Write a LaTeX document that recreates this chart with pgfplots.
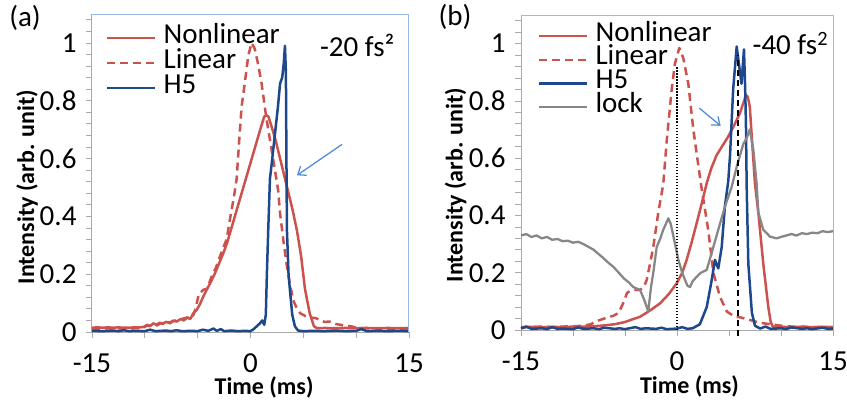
\documentclass[border=0pt]{standalone}
\usepackage{fontspec}
\setmainfont{Carlito}
\usepackage{pgfplots}
\pgfplotsset{compat=1.18}
\usetikzlibrary{arrows.meta}

\definecolor{exred}{RGB}{204,82,78}
\definecolor{exblue}{RGB}{30,72,140}
\definecolor{exgray}{RGB}{135,135,135}
\definecolor{arrowblue}{RGB}{85,140,215}
\definecolor{frameblue}{RGB}{150,185,230}
\definecolor{axgray}{RGB}{170,170,170}

\newcommand{\bigf}{\fontsize{29}{29}\selectfont}
\newcommand{\labf}{\fontsize{24}{24}\selectfont\bfseries}

\pgfplotsset{
  panel/.style={
    scale only axis, clip=false,
    xmin=-15, xmax=15, ymin=0, ymax=1.1,
    /pgf/number format/assume math mode=true,
    axis lines=left, axis line style={axgray, -, line width=1pt},
    xtick={-15,0,15},
    minor xtick={-10,-5,5,10},
    ytick={0,0.2,0.4,0.6,0.8,1},
    minor ytick={0.04,0.08,0.12,0.16,0.24,0.28,0.32,0.36,0.44,0.48,0.52,0.56,0.64,0.68,0.72,0.76,0.84,0.88,0.92,0.96,1.04,1.08},
    tick align=outside, major tick length=6pt, minor tick length=6pt,
    tick style={axgray, line width=0.8pt},
    tick label style={font=\bigf, text=black},
    xticklabel style={yshift=-12pt},
    yticklabel style={xshift=-6pt},
    label style={font=\labf},
    xlabel={Time (ms)}, ylabel={Intensity (arb. unit)},
    legend cell align=left,
    legend image code/.code={\draw[##1] (0pt,0pt) -- (48pt,0pt);},
    legend style={draw=none, fill=none, font=\bigf, inner sep=0pt,
      column sep=7pt, anchor=north west,
      nodes={inner sep=0pt, text height=15pt, text depth=5pt}},
  },
  nl/.style={exred, line width=2.5pt, line join=round},
  li/.style={exred, line width=2.5pt, line join=round, dash pattern=on 8pt off 5pt},
  h5/.style={exblue, line width=2.5pt, line join=round},
  lk/.style={exgray, line width=2.3pt, line join=round},
}

\begin{document}
\begin{tikzpicture}
\useasboundingbox (0,0) rectangle (847pt,400pt);

% ---------------- panel (a) ----------------
\begin{axis}[panel, at={(92pt,68pt)}, anchor=south west,
  width=317pt, height=318pt,
  xlabel style={at={(axis description cs:0.543,-0.173)}, anchor=center},
  ylabel style={at={(axis description cs:-0.205,0.456)}, anchor=center},
  legend style={at={(axis description cs:0.044,0.956)}, row sep=5pt}]
\addplot[nl] coordinates {
(-15,0.015)(-14.5,0.016)(-14,0.015)(-13.5,0.016)(-13,0.015)(-12.5,0.016)(-12,0.015)(-11.5,0.015)(-11,0.016)(-10.5,0.016)
(-10,0.018)(-9.8,0.025)(-9.5,0.02)(-9.2,0.03)(-8.9,0.025)(-8.6,0.032)(-8.3,0.028)(-8,0.035)(-7.6,0.03)(-7.3,0.04)
(-7,0.036)(-6.6,0.045)(-6.3,0.04)(-6,0.05)(-5.7,0.045)(-5.4,0.065)(-5.1,0.076)(-4.8,0.095)(-4.5,0.12)(-4.15,0.146)
(-3.8,0.17)(-3.4,0.2)(-3,0.235)(-2.6,0.27)(-2.2,0.31)(-1.8,0.36)(-1.4,0.41)(-1,0.46)(-0.6,0.51)(-0.2,0.56)
(0.2,0.61)(0.6,0.66)(1.0,0.71)(1.3,0.745)(1.5,0.75)(1.7,0.745)(2.0,0.71)(2.4,0.66)(2.8,0.6)(3.2,0.54)
(3.6,0.48)(4.0,0.42)(4.4,0.35)(4.8,0.26)(5.15,0.15)(5.6,0.065)(6.0,0.02)(6.3,0.013)(7,0.014)(8,0.013)
(9,0.014)(10,0.013)(11,0.014)(12,0.013)(13,0.014)(14,0.013)(15,0.014)};
\addlegendentry{Nonlinear}
\addplot[li] coordinates {
(-15,0.012)(-14,0.012)(-13,0.013)(-12,0.012)(-11,0.013)(-10.2,0.013)(-10,0.02)(-9.5,0.022)(-9,0.02)(-8.5,0.03)
(-8,0.032)(-7.5,0.035)(-7,0.04)(-6.5,0.045)(-6,0.05)(-5.5,0.05)(-5.2,0.08)(-4.9,0.13)(-4.47,0.146)(-4.1,0.15)
(-3.7,0.19)(-3.3,0.22)(-2.9,0.26)(-2.6,0.29)(-2.26,0.32)(-1.9,0.4)(-1.6,0.46)(-1.31,0.53)(-1.06,0.667)(-0.84,0.78)
(-0.53,0.864)(-0.21,0.956)(0.1,1.0)(0.4,0.98)(0.7,0.93)(1.05,0.86)(1.5,0.74)(2.0,0.63)(2.4,0.54)(2.62,0.49)
(2.8,0.41)(3.1,0.32)(3.4,0.24)(3.7,0.17)(4.05,0.11)(4.4,0.08)(4.7,0.065)(5.2,0.055)(5.7,0.05)(6.2,0.048)
(6.6,0.04)(7,0.035)(7.5,0.036)(8,0.028)(8.5,0.025)(9,0.02)(9.5,0.02)(10,0.015)(11,0.013)(12,0.012)
(13,0.012)(14,0.012)(15,0.012)};
\addlegendentry{Linear}
\addplot[h5] coordinates {
(-15,0.004)(-14,0.003)(-13,0.005)(-12.5,0.003)(-12,0.006)(-11.5,0.003)(-11,0.004)(-10,0.003)(-9.5,0.008)(-9,0.003)
(-8,0.005)(-7.5,0.003)(-7,0.006)(-6.5,0.003)(-5.5,0.004)(-5,0.003)(-4.5,0.008)(-4,0.004)(-3.5,0.012)(-3.2,0.004)
(-2.8,0.01)(-2.5,0.003)(-1.8,0.005)(-1.2,0.003)(-0.5,0.004)(0,0.003)(0.3,0.01)(0.6,0.02)(0.9,0.03)(1.1,0.04)
(1.3,0.025)(1.45,0.06)(1.55,0.2)(1.68,0.354)(1.84,0.53)(2.0,0.58)(2.3,0.68)(2.6,0.78)(2.8,0.86)(3.0,0.88)
(3.15,0.93)(3.26,0.99)(3.35,0.9)(3.4,0.6)(3.45,0.35)(3.6,0.2)(3.73,0.146)(3.95,0.06)(4.2,0.02)(4.5,0.005)
(5,0.003)(6,0.004)(7,0.003)(8,0.005)(9,0.003)(10,0.004)(10.5,0.01)(11,0.003)(12,0.004)(13,0.003)
(14,0.004)(15,0.003)};
\addlegendentry{H5}
\node[font=\bigf] at (axis cs:10.1,0.99) {-20 fs²};
\draw[arrowblue, line width=1.3pt, -{Straight Barb[length=7pt,width=11pt]}]
  (axis cs:8.66,0.649) -- (axis cs:4.4,0.542);
\draw[frameblue, line width=1pt] (rel axis cs:0,1) -- (rel axis cs:1,1) -- (rel axis cs:1,0);
\end{axis}

% ---------------- panel (b) ----------------
\begin{axis}[panel, at={(521pt,70pt)}, anchor=south west,
  width=312pt, height=315pt,
  xlabel style={at={(axis description cs:0.54,-0.18)}, anchor=center},
  ylabel style={at={(axis description cs:-0.21,0.46)}, anchor=center},
  legend style={at={(axis description cs:0.054,0.965)}, row sep=3.7pt}]
\addplot[nl] coordinates {
(-15,0.01)(-14,0.011)(-13,0.01)(-12,0.011)(-11,0.01)(-10,0.012)(-9,0.012)(-8,0.013)(-7,0.016)(-6,0.02)
(-5,0.028)(-4.3,0.037)(-3.56,0.046)(-2.6,0.068)(-1.63,0.093)(-0.8,0.125)(-0.03,0.163)(0.5,0.2)(0.93,0.245)(1.4,0.305)
(1.89,0.373)(2.4,0.445)(2.86,0.513)(3.3,0.565)(3.8,0.61)(4.4,0.645)(4.93,0.676)(5.5,0.715)(6.06,0.758)(6.4,0.795)
(6.63,0.82)(6.8,0.815)(7.0,0.78)(7.2,0.67)(7.5,0.51)(7.82,0.41)(8.3,0.23)(8.78,0.08)(9.0,0.03)(9.2,0.012)
(10,0.011)(11,0.01)(12,0.011)(13,0.01)(14,0.011)(15,0.01)};
\addlegendentry{Nonlinear}
\addplot[li] coordinates {
(-15,0.01)(-14,0.01)(-13,0.012)(-12,0.01)(-11,0.012)(-10,0.013)(-9,0.015)(-8.3,0.02)(-7.8,0.03)(-7,0.04)
(-6.1,0.05)(-5.6,0.06)(-5.1,0.1)(-4.8,0.13)(-4.3,0.14)(-3.56,0.14)(-3.2,0.15)(-2.91,0.175)(-2.6,0.23)(-2.28,0.29)
(-1.8,0.41)(-1.32,0.51)(-0.99,0.66)(-0.51,0.84)(-0.2,0.93)(0.22,0.985)(0.6,0.95)(1.09,0.86)(1.57,0.70)(2.3,0.51)
(3.0,0.35)(3.5,0.2)(4.13,0.116)(4.8,0.064)(5.58,0.046)(6.0,0.045)(7.0,0.035)(8,0.025)(9,0.02)(10,0.015)
(11,0.012)(12,0.012)(13,0.01)(14,0.01)(15,0.01)};
\addlegendentry{Linear}
\addplot[h5] coordinates {
(-15,0.005)(-14.5,0.012)(-14,0.004)(-13,0.006)(-12.5,0.003)(-12,0.01)(-11.5,0.004)(-11,0.005)(-10,0.003)(-9.5,0.009)
(-9,0.004)(-8,0.006)(-7.5,0.003)(-7,0.008)(-6,0.004)(-5.5,0.006)(-5,0.003)(-4,0.01)(-3.5,0.004)(-3,0.006)
(-2,0.004)(-1.5,0.008)(-1,0.003)(0,0.005)(0.5,0.01)(1,0.004)(1.5,0.006)(2.2,0.02)(2.86,0.08)(3.34,0.175)
(3.65,0.245)(3.8,0.23)(3.97,0.215)(4.3,0.29)(4.6,0.43)(4.93,0.52)(5.1,0.61)(5.4,0.84)(5.74,0.99)(6.06,0.90)
(6.2,0.86)(6.44,0.98)(6.55,0.85)(6.63,0.72)(6.7,0.5)(6.86,0.23)(7.2,0.06)(7.5,0.015)(8,0.005)(8.5,0.012)
(9,0.004)(10,0.006)(10.5,0.003)(11,0.009)(12,0.004)(12.5,0.006)(13,0.003)(14,0.008)(14.5,0.004)(15,0.005)};
\addlegendentry{H5}
\addplot[lk] coordinates {
(-15,0.33)(-14.5,0.335)(-14,0.325)(-13.5,0.33)(-13,0.32)(-12.5,0.325)(-12,0.315)(-11.5,0.318)(-11,0.31)(-10.5,0.312)
(-10,0.305)(-9.5,0.308)(-9,0.3)(-8.5,0.29)(-8,0.28)(-7.7,0.27)(-7.2,0.255)(-6.6,0.235)(-6.1,0.22)(-5.6,0.2)
(-5.1,0.18)(-4.6,0.165)(-4.2,0.15)(-3.56,0.14)(-3.2,0.11)(-2.76,0.065)(-2.5,0.15)(-2.28,0.2)(-1.95,0.29)(-1.6,0.32)
(-1.32,0.35)(-0.83,0.39)(-0.6,0.37)(-0.36,0.33)(0.13,0.245)(0.5,0.2)(0.77,0.175)(1.0,0.155)(1.25,0.15)(1.5,0.17)
(1.89,0.186)(2.3,0.2)(2.86,0.21)(3.34,0.27)(3.97,0.35)(4.6,0.43)(5.26,0.5)(5.74,0.57)(6.38,0.65)(6.7,0.67)
(7.0,0.70)(7.34,0.63)(7.66,0.51)(7.82,0.41)(8.3,0.35)(8.94,0.326)(9.58,0.32)(10,0.325)(10.5,0.33)(11,0.335)
(11.5,0.33)(12,0.338)(12.5,0.335)(13,0.34)(13.5,0.338)(14,0.345)(14.5,0.342)(15,0.345)};
\addlegendentry{lock}
\addplot[black, line width=1.4pt, dash pattern=on 1.5pt off 1.5pt, forget plot] coordinates {(0,0) (0,0.92)};
\addplot[black, line width=1.8pt, dash pattern=on 6pt off 4pt, forget plot] coordinates {(5.9,-0.02) (5.9,0.96)};
\node[font=\bigf] at (axis cs:10.9,1.0) {-40 fs\textsuperscript{2}};
\draw[arrowblue, line width=1.3pt, -{Straight Barb[length=7pt,width=11pt]}]
  (axis cs:2.14,0.775) -- (axis cs:4.2,0.713);
\draw[frameblue, line width=1pt] (rel axis cs:0,1) -- (rel axis cs:1,1) -- (rel axis cs:1,0);
\end{axis}

\node[font=\bigf] at (25pt,382pt) {(a)};
\node[font=\bigf] at (455pt,383pt) {(b)};
\end{tikzpicture}
\end{document}
